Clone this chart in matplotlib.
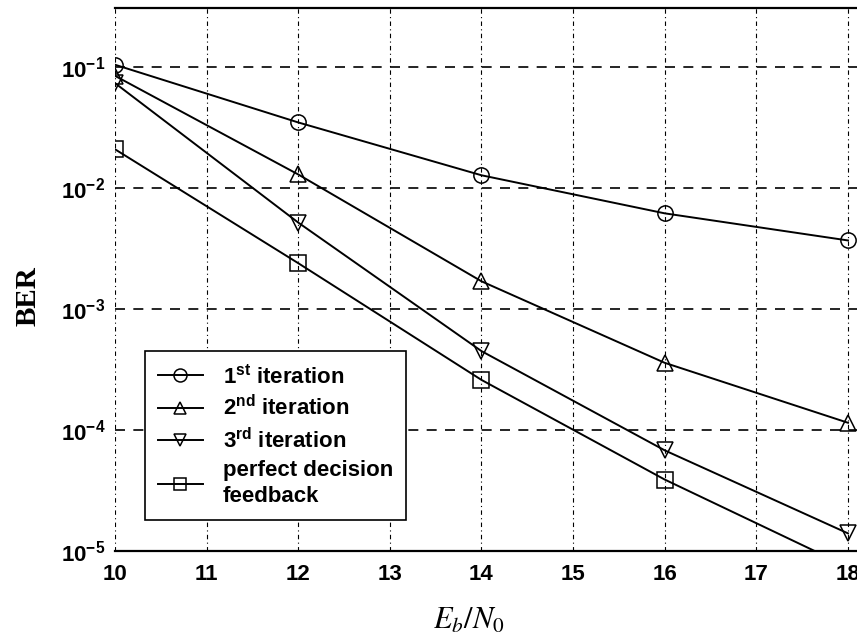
import numpy as np
import matplotlib
matplotlib.use("Agg")
import matplotlib.pyplot as plt
from matplotlib.ticker import FixedLocator, NullLocator

plt.rcParams["font.family"] = ["Liberation Sans", "DejaVu Sans"]
plt.rcParams["mathtext.fontset"] = "custom"
plt.rcParams["mathtext.rm"] = "Liberation Sans:bold"
plt.rcParams["mathtext.bf"] = "Liberation Sans:bold"

# Eb/N0 in dB
snr = [10, 12, 14, 16, 18]
ber_iter1 = [0.105, 0.035, 0.0128, 0.0062, 0.0037]
ber_iter2 = [0.085, 0.013, 0.0017, 3.6e-4, 1.15e-4]
ber_iter3 = [0.074, 0.0052, 4.5e-4, 6.8e-5, 1.4e-5]
ber_perfect = [0.021, 0.0024, 2.6e-4, 3.9e-5, 7.4e-6]

labels = [
    r"1$^{\rm st}$ iteration",
    r"2$^{\rm nd}$ iteration",
    r"3$^{\rm rd}$ iteration",
    "perfect decision\nfeedback",
]
markers = ["o", "^", "v", "s"]

fig = plt.figure(figsize=(8.57, 6.36), dpi=100)
ax = fig.add_axes([0.1342, 0.1336, 0.8713, 0.854])

for ys, m, lab in zip([ber_iter1, ber_iter2, ber_iter3, ber_perfect], markers, labels):
    ax.semilogy(snr, ys, color="black", lw=1.4, marker=m, markersize=11,
                markerfacecolor="none", markeredgecolor="black",
                markeredgewidth=1.1, label=lab)

ax.set_xlim(10, 18.15)
ax.set_ylim(1e-5, 0.31)

ax.xaxis.set_major_locator(FixedLocator(range(10, 19)))
ax.yaxis.set_major_locator(FixedLocator([1e-5, 1e-4, 1e-3, 1e-2, 1e-1]))
ax.yaxis.set_minor_locator(NullLocator())
ax.set_xticklabels([str(v) for v in range(10, 19)], fontweight="bold")
ax.set_yticklabels([r"$10^{-%d}$" % k for k in [5, 4, 3, 2, 1]])
ax.tick_params(axis="both", labelsize=16, length=0)
ax.tick_params(axis="x", pad=9)
ax.tick_params(axis="y", pad=7)

ax.xaxis.grid(True, linestyle=(0, (4, 3, 1, 3)), lw=0.8, color="black")
ax.yaxis.grid(True, linestyle=(0, (6, 5)), lw=1.2, color="black")

ax.spines["left"].set_visible(False)
ax.spines["right"].set_visible(False)
ax.spines["top"].set_linewidth(1.6)
ax.spines["bottom"].set_linewidth(1.6)

ax.set_ylabel("BER", family="Liberation Serif", fontweight="bold", fontsize=21)
ax.yaxis.set_label_coords(-0.098, 0.47)
ax.set_xlabel(r"$E_b/N_0$", fontsize=22, math_fontfamily="stix")
ax.xaxis.set_label_coords(0.474, -0.1)

leg = ax.legend(loc="lower left", bbox_to_anchor=(0.04, 0.057),
                prop={"weight": "bold", "size": 16}, fancybox=False,
                edgecolor="black", framealpha=1, handlelength=2.0,
                borderaxespad=0, labelspacing=0.32, handletextpad=0.9,
                markerscale=0.85, borderpad=0.6)
leg.get_frame().set_linewidth(1.2)
leg.get_texts()[3].set_linespacing(1.3)

fig.savefig("out.png", dpi=100)
